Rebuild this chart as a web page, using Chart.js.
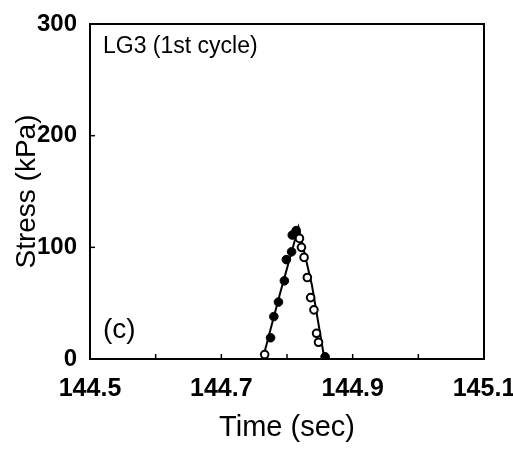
<!DOCTYPE html>
<html><head><meta charset="utf-8">
<script src="https://cdn.jsdelivr.net/npm/chart.js@4"></script>
<style>html,body{margin:0;padding:0;background:#fff}#wrap{width:513px;height:449px}</style>
</head><body><div id="wrap"><canvas id="c" width="513" height="449"></canvas></div>
<script>
// Data
const lineTime   = [144.5, 144.763, 144.790, 144.8175, 144.838, 144.857, 145.1];
const lineStress = [0,     0,       60,      118,      66,      0,       0];
const filledTime   = [144.775, 144.780, 144.787, 144.796, 144.799, 144.807, 144.808, 144.814, 144.858];
const filledStress = [19,      38,      51,      70,      89,      96,      111,     115,     2];
const openTime   = [144.766, 144.819, 144.822, 144.826, 144.831, 144.836, 144.841, 144.845, 144.848];
const openStress = [4,       108,     100,     91,      73,      55,      44,      23,      15];
const xTickLabels = [144.5, 144.7, 144.9, 145.1];
const yTicks = [0, 100, 200, 300];
const panelTitle = 'LG3 (1st cycle)';
const panelTag = '(c)';

const toXY = (xs, ys) => xs.map((x, i) => ({x, y: ys[i]}));
const FONT = '"Liberation Sans", Arial, sans-serif';

const frame = {
  id: 'frame',
  afterDraw(chart) {
    const {ctx, chartArea: a, scales} = chart;
    ctx.save();
    ctx.strokeStyle = '#000';
    ctx.lineWidth = 2;
    ctx.strokeRect(a.left, a.top, a.right - a.left, a.bottom - a.top);
    ctx.lineWidth = 1.5;
    for (let v = 144.6; v < 145.05; v += 0.1) {
      const px = scales.x.getPixelForValue(v);
      ctx.beginPath(); ctx.moveTo(px, a.bottom); ctx.lineTo(px, a.bottom - 5); ctx.stroke();
    }
    for (const v of [100, 200]) {
      const py = scales.y.getPixelForValue(v);
      ctx.beginPath(); ctx.moveTo(a.left, py); ctx.lineTo(a.left + 5, py); ctx.stroke();
    }
    ctx.fillStyle = '#000';
    ctx.textBaseline = 'middle';
    ctx.font = '23px ' + FONT;
    ctx.fillText(panelTitle, a.left + 13, a.top + 23);
    ctx.font = '28px ' + FONT;
    ctx.fillText(panelTag, a.left + 13, a.bottom - 29);
    ctx.restore();
  }
};

new Chart(document.getElementById('c'), {
  type: 'scatter',
  data: {
    datasets: [
      {
        label: 'line', data: toXY(lineTime, lineStress), showLine: true,
        borderColor: '#000', borderWidth: 2, pointRadius: 0, tension: 0, order: 3
      },
      {
        label: 'filled', data: toXY(filledTime, filledStress),
        pointRadius: 4.3, pointBackgroundColor: '#000', pointBorderColor: '#000',
        pointBorderWidth: 1, order: 1
      },
      {
        label: 'open', data: toXY(openTime, openStress),
        pointRadius: 3.8, pointBackgroundColor: '#fff', pointBorderColor: '#000',
        pointBorderWidth: 2, order: 2
      }
    ]
  },
  options: {
    responsive: false, animation: false,
    layout: {padding: {top: 24, right: 29, left: 0, bottom: 0}},
    plugins: {legend: {display: false}, tooltip: {enabled: false}},
    scales: {
      x: {
        type: 'linear', min: 144.5, max: 145.1,
        afterBuildTicks(s) { s.ticks = xTickLabels.map(v => ({value: v})); },
        afterFit(s) { s.height = 90; s.paddingLeft = 0; s.paddingRight = 0; },
        border: {display: false},
        grid: {display: false, drawTicks: false},
        ticks: {
          color: '#000', padding: 15, maxRotation: 0, autoSkip: false,
          font: {family: FONT, size: 25, weight: 'bold'},
          callback: v => v.toFixed(1)
        },
        title: {
          display: true, text: 'Time (sec)', color: '#000', padding: {top: 0, bottom: 4},
          font: {family: FONT, size: 29}
        }
      },
      y: {
        min: 0, max: 300,
        afterBuildTicks(s) { s.ticks = yTicks.map(v => ({value: v})); },
        afterFit(s) { s.width = 90; s.paddingTop = 0; s.paddingBottom = 0; },
        border: {display: false},
        grid: {display: false, drawTicks: false},
        ticks: {
          color: '#000', padding: 13, autoSkip: false,
          font: {family: FONT, size: 24, weight: 'bold'}
        },
        title: {
          display: true, text: 'Stress (kPa)', color: '#000', padding: {top: 10, bottom: 0},
          font: {family: FONT, size: 28}
        }
      }
    }
  },
  plugins: [frame]
});
</script></body></html>
